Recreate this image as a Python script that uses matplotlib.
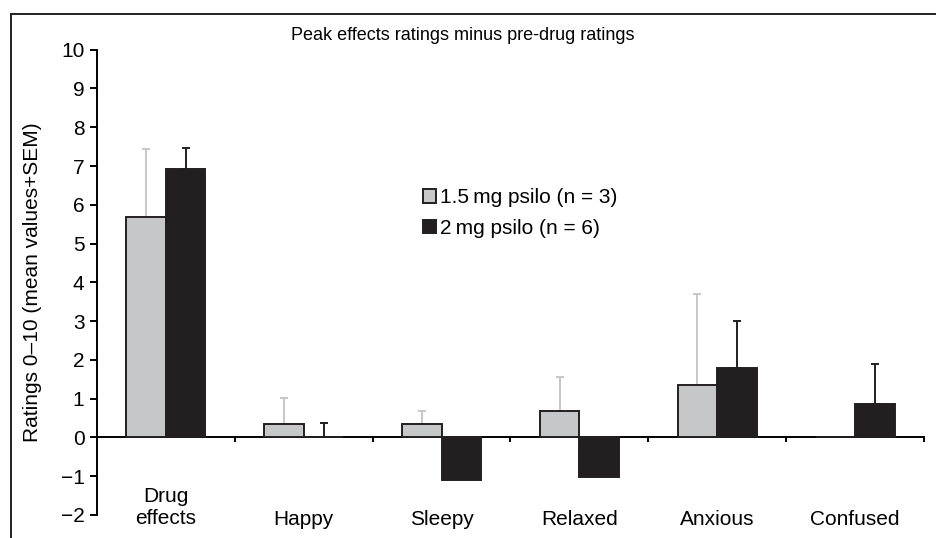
import numpy as np
import matplotlib
matplotlib.use("Agg")
import matplotlib.pyplot as plt
from matplotlib.lines import Line2D
from matplotlib.patches import Patch

plt.rcParams["font.family"] = ["Liberation Sans", "DejaVu Sans"]

categories = ["Drug\neffects", "Happy", "Sleepy", "Relaxed", "Anxious", "Confused"]
low_dose = [5.68, 0.35, 0.35, 0.68, 1.34, 0.0]       # 1.5 mg psilo, mean
low_sem = [1.76, 0.66, 0.33, 0.89, 2.35, 0.0]
high_dose = [6.93, 0.0, -1.09, -1.02, 1.78, 0.85]   # 2 mg psilo, mean
high_sem = [0.53, 0.37, 0.0, 0.0, 1.23, 1.04]

grey = "#c6c7c9"
dark = "#231f20"
fs = 15

fig = plt.figure(figsize=(9.36, 5.38), dpi=100)
ax = fig.add_axes([97 / 936, 1 - 515 / 538, 827 / 936, 465.3 / 538])

x = np.arange(len(categories)) + 0.5
w = 0.287

ax.bar(x - w / 2, low_dose, w, color=grey, edgecolor=dark, linewidth=1.4, zorder=3)
ax.bar(x + w / 2, high_dose, w, color=dark, edgecolor=dark, linewidth=1.4, zorder=3)

# only the upper half of each error bar (+SEM), skip the ones not drawn
for xs, vals, errs, col in [(x - w / 2, low_dose, low_sem, grey),
                            (x + w / 2, high_dose, high_sem, dark)]:
    vals = np.array(vals)
    errs = np.array(errs)
    m = errs > 0
    ax.errorbar(xs[m], vals[m], yerr=[np.zeros(m.sum()), errs[m]], fmt="none",
                ecolor=col, elinewidth=1.4, capsize=3, capthick=1.4, zorder=2)

ax.set_xlim(0, 6)
ax.set_ylim(-2, 10)
ax.set_yticks(range(-2, 11))
ax.set_yticklabels([str(v).replace("-", "\u2212") for v in range(-2, 11)])
ax.set_xticks(range(1, 7))
ax.set_xticklabels([])

for s in ["top", "right"]:
    ax.spines[s].set_visible(False)
ax.spines["bottom"].set_position(("data", 0))
ax.spines["left"].set_linewidth(1.4)
ax.spines["bottom"].set_linewidth(1.4)
ax.tick_params(axis="y", direction="out", length=5, width=1.4, pad=4, labelsize=fs)
ax.tick_params(axis="x", direction="out", length=3.5, width=1.4)

for xi, lab in zip(x, categories):
    ax.text(xi, -1.8 if "\n" in lab else -2.12, lab, ha="center", va="center",
            fontsize=fs, linespacing=1.2, clip_on=False)

ax.set_ylabel("Ratings 0\u201310 (mean values+SEM)", fontsize=fs)
ax.yaxis.set_label_coords(-0.066, 0.5)

fig.text(463 / 936, 1 - 36 / 538, "Peak effects ratings minus pre-drug ratings",
         ha="center", va="center", fontsize=13)

handles = [Patch(facecolor=grey, edgecolor=dark, linewidth=1.4),
           Patch(facecolor=dark, edgecolor=dark, linewidth=1.4)]
fig.legend(handles, ["1.5\u2009mg psilo (n = 3)", "2\u2009mg psilo (n = 6)"],
           loc="upper left", bbox_to_anchor=(413 / 936, 1 - 178 / 538),
           frameon=False, fontsize=fs, handlelength=0.6, handleheight=0.6,
           handletextpad=0.2, labelspacing=0.55, borderpad=0)

# border lines of the original figure panel
fig.add_artist(Line2D([11 / 936, 1], [1 - 14 / 538, 1 - 14 / 538], color=dark, lw=1.4))
fig.add_artist(Line2D([11 / 936, 11 / 936], [0, 1 - 14 / 538], color=dark, lw=1.4))

fig.savefig("out.png", dpi=100)
